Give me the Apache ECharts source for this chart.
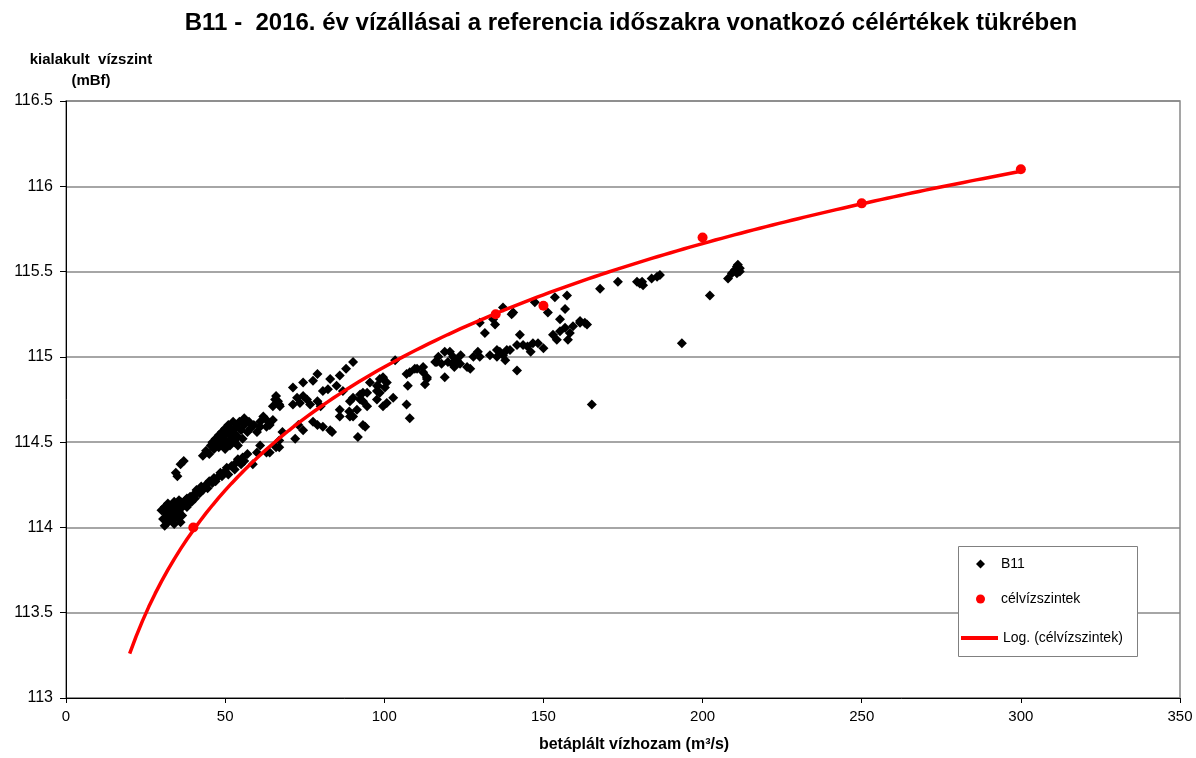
<!DOCTYPE html>
<html>

<head>
    <meta charset="UTF-8">
    <title>B11 - 2016</title>
    <script src="https://cdn.jsdelivr.net/npm/echarts@6.0.0/dist/echarts.min.js"></script>
    <style>
        html, body { margin: 0; padding: 0; background: #fff; }
        #chart { width: 1196px; height: 758px; }
    </style>
</head>

<body>
    <div id="chart"></div>
    <script>
        // célvízszintek (referencia célértékek)
        const targetFlow = [40, 135, 150, 200, 250, 300];
        const targetLevel = [114.0, 115.25, 115.3, 115.7, 115.9, 116.1];

        // B11 napi vízállások 2016 [vízhozam, vízszint]
        const b11 = [
            // alsó csoport
            [30, 114.10], [30.5, 114.05], [31, 114.12], [31.5, 114.08], [32, 114.03], [32, 114.14], [32.5, 114.10],
            [33, 114.06], [33, 114.12], [33.5, 114.04], [34, 114.09], [34, 114.15], [34.5, 114.11], [35, 114.06],
            [35, 114.13], [35.5, 114.09], [36, 114.15], [36, 114.11], [36.5, 114.07], [37, 114.13], [37.5, 114.16],
            [38, 114.12], [38, 114.17], [38.5, 114.14], [39, 114.18], [39.5, 114.15], [40, 114.19], [40.5, 114.17],
            [41, 114.20], [34, 114.02], [36, 114.03], [31, 114.01], [33, 114.09], [35.5, 114.16],
            [34.5, 114.32], [36, 114.37], [37, 114.39], [35, 114.30],
            // alsó sáv
            [41, 114.22], [42, 114.20], [42.5, 114.24], [43, 114.22], [44, 114.25], [44.5, 114.23], [45, 114.27],
            [46, 114.26], [46.5, 114.29], [47, 114.27], [48, 114.30], [48.5, 114.32], [49, 114.30], [50, 114.33],
            [50.5, 114.35], [51, 114.31], [52, 114.36], [53, 114.34], [53.5, 114.38], [54, 114.40], [55, 114.37],
            [55.5, 114.41], [56, 114.39], [57, 114.43], [58.7, 114.37], [60, 114.44], [61, 114.48], [63, 114.44],
            [64, 114.44], [66, 114.47], [67, 114.51], [67, 114.47], [68, 114.56], [72, 114.52], [74.5, 114.57],
            // felső sáv
            [43, 114.42], [44, 114.45], [45, 114.43], [45.5, 114.48], [46, 114.50], [46.5, 114.46], [47, 114.52],
            [47.5, 114.49], [48, 114.54], [48, 114.47], [48.5, 114.51], [49, 114.56], [49, 114.49], [49.5, 114.53],
            [50, 114.58], [50, 114.46], [50.5, 114.50], [51, 114.55], [51, 114.60], [51.5, 114.48], [52, 114.52],
            [52, 114.57], [52.5, 114.62], [53, 114.50], [53, 114.55], [53.5, 114.59], [54, 114.53], [54, 114.48],
            [54.5, 114.62], [55, 114.57], [55.5, 114.52], [56, 114.60], [56, 114.64], [57, 114.56], [57.5, 114.62],
            [58, 114.58], [59, 114.60], [60, 114.56], [61, 114.62], [61, 114.59], [62, 114.65], [63, 114.59],
            [63, 114.63], [64, 114.60],
            // 65-100
            [65, 114.71], [65, 114.63], [65.7, 114.75], [66, 114.77], [66.6, 114.74], [67, 114.72], [67.2, 114.71],
            [71.3, 114.82], [71.3, 114.72], [72.6, 114.76], [73, 114.60], [73.5, 114.73], [74.5, 114.85],
            [74.5, 114.77], [75.7, 114.75], [76.7, 114.72], [77.6, 114.86], [77.6, 114.62], [79, 114.90],
            [79, 114.74], [79, 114.60], [80, 114.71], [80.7, 114.80], [80.7, 114.59], [82.3, 114.81], [83, 114.87],
            [83, 114.57], [83.6, 114.56], [85, 114.83], [86, 114.89], [86, 114.69], [86, 114.65], [87, 114.80],
            [88, 114.93], [89, 114.68], [89.2, 114.74], [89.2, 114.65], [90.2, 114.97], [90.2, 114.76],
            [90.2, 114.65], [91.4, 114.69], [91.7, 114.53], [92.4, 114.75], [92.4, 114.78], [93.3, 114.79],
            [93.3, 114.60], [93.3, 114.74], [94, 114.59], [94.6, 114.71], [94.6, 114.79], [95.5, 114.85],
            [97.7, 114.83], [97.7, 114.75], [97.7, 114.80], [98, 114.83], [98.6, 114.79], [98.6, 114.87],
            [99.6, 114.87], [99.6, 114.88], [99.6, 114.71], [100.2, 114.82], [100.8, 114.73], [100.8, 114.85],
            // 100-165
            [102.8, 114.76], [103.4, 114.98], [107, 114.72], [107, 114.90], [107.4, 114.83], [108, 114.64],
            [108, 114.91], [109.6, 114.93], [110.3, 114.93], [112.2, 114.91], [112.2, 114.94], [112.8, 114.84],
            [113.4, 114.87], [113.4, 114.88], [116, 114.97], [116.5, 114.97], [117, 115.00], [118, 114.96],
            [119, 115.03], [119, 114.88], [120, 114.97], [120.6, 115.03], [121.3, 114.96], [121.6, 115.00],
            [122, 114.94], [122.8, 114.98], [123.8, 114.96], [124, 115.01], [126, 114.94], [127, 114.93],
            [128, 115.00], [129.4, 115.03], [130, 115.00], [130, 115.20], [131.6, 115.14], [133.2, 115.01],
            [134.2, 115.22], [134.8, 115.19], [135.4, 115.00], [135.4, 115.04], [136.3, 115.03], [137.3, 115.29],
            [137.3, 115.01], [138, 114.98], [138.5, 115.04], [139.5, 115.04], [140, 115.25], [140.5, 115.26],
            [141.7, 115.07], [141.7, 114.92], [142.6, 115.13], [143.6, 115.07], [145, 115.06], [146, 115.03],
            [146.7, 115.08], [147.3, 115.32], [148.3, 115.08], [150, 115.05], [151.4, 115.26], [153, 115.13],
            [153.6, 115.35], [154.2, 115.10], [155.2, 115.15], [155.2, 115.22], [156.8, 115.17], [156.8, 115.28],
            [157.4, 115.36], [157.7, 115.10], [158.3, 115.14], [159.3, 115.18], [161.5, 115.20], [161.5, 115.21],
            [163, 115.20], [163.7, 115.19], [165.2, 114.72],
            // 165-215
            [167.8, 115.40], [173.4, 115.44], [179.4, 115.44], [180.3, 115.43], [181, 115.44], [181.3, 115.42],
            [184, 115.46], [185.7, 115.47], [186.6, 115.48], [193.5, 115.08], [202.3, 115.36], [208, 115.46],
            [209.2, 115.49], [210.2, 115.51], [210.8, 115.53], [211.1, 115.54], [211.7, 115.52], [211.7, 115.50],
            [210.8, 115.49]
        ];

        const xTicks = { min: 0, max: 350, interval: 50 };
        const yTicks = { min: 113, max: 116.5, interval: 0.5 };

        // logaritmikus trendvonal (legkisebb négyzetek a célvízszintekre)
        const lx = targetFlow.map(v => Math.log(v));
        const mx = lx.reduce((s, v) => s + v, 0) / lx.length;
        const my = targetLevel.reduce((s, v) => s + v, 0) / targetLevel.length;
        let sxy = 0, sxx = 0;
        lx.forEach((v, i) => { sxy += (v - mx) * (targetLevel[i] - my); sxx += (v - mx) * (v - mx); });
        const slope = sxy / sxx;
        const icpt = my - slope * mx;
        const trend = [];
        for (let q = 20; q <= 300; q += 2) trend.push([q, icpt + slope * Math.log(q)]);

        const font = 'Liberation Sans, Arial, sans-serif';
        const legendText = { fontFamily: font, fontSize: 14, color: '#000' };
        const chart = echarts.init(document.getElementById('chart'));
        chart.setOption({
            animation: false,
            title: {
                text: 'B11 -  2016. év vízállásai a referencia időszakra vonatkozó célértékek tükrében',
                left: 626, top: 6, textAlign: 'center',
                textStyle: { fontFamily: font, fontSize: 24, fontWeight: 'bold', color: '#000' }
            },
            graphic: [{
                type: 'text', z: 10,
                style: {
                    text: 'kialakult  vízszint\n(mBf)', x: 91, y: 49, textAlign: 'center',
                    font: 'bold 15px ' + font, fill: '#000', lineHeight: 21
                }
            }, {
                type: 'rect', z: 10,
                shape: { x: 958.5, y: 546.5, width: 179, height: 110 },
                style: { fill: '#fff', stroke: '#808080', lineWidth: 1 }
            }],
            legend: [{
                orient: 'vertical', left: 976, top: 557, z: 20,
                padding: 0, itemGap: 21, itemWidth: 9, itemHeight: 9,
                textStyle: Object.assign({ padding: [0, 0, 0, 11] }, legendText),
                data: ['B11', 'célvízszintek']
            }, {
                orient: 'vertical', left: 961, top: 631, z: 20,
                padding: 0, itemWidth: 37, itemHeight: 4,
                textStyle: legendText,
                data: [{ name: 'Log. (célvízszintek)', icon: 'rect' }]
            }],
            grid: {
                left: 66, right: 16, top: 101, bottom: 59,
                show: true, borderColor: '#888', borderWidth: 1.5
            },
            xAxis: {
                type: 'value', min: xTicks.min, max: xTicks.max, interval: xTicks.interval,
                name: 'betáplált vízhozam (m³/s)', nameLocation: 'middle', nameGap: 39,
                nameTextStyle: { fontFamily: font, fontSize: 16, fontWeight: 'bold', color: '#000', padding: [0, 0, 0, 22] },
                axisLine: { lineStyle: { color: '#000', width: 1 } },
                axisTick: { show: true, inside: false, length: 5, lineStyle: { color: '#000' } },
                axisLabel: { fontFamily: font, fontSize: 15, color: '#000', margin: 11 },
                splitLine: { show: false }
            },
            yAxis: {
                type: 'value', min: yTicks.min, max: yTicks.max, interval: yTicks.interval,
                axisLine: { show: true, lineStyle: { color: '#000', width: 1 } },
                axisTick: { show: true, inside: false, length: 6, lineStyle: { color: '#000' } },
                axisLabel: { fontFamily: font, fontSize: 16, color: '#000', margin: 13 },
                splitLine: { show: true, lineStyle: { color: '#888', width: 1.5 } }
            },
            series: [{
                name: 'B11', type: 'scatter', data: b11,
                symbol: 'diamond', symbolSize: 10,
                itemStyle: { color: '#000', opacity: 1 }, z: 3
            }, {
                name: 'célvízszintek', type: 'scatter',
                data: targetFlow.map((v, i) => [v, targetLevel[i]]),
                symbol: 'circle', symbolSize: 10,
                itemStyle: { color: '#ff0000', opacity: 1 }, z: 4
            }, {
                name: 'Log. (célvízszintek)', type: 'line', data: trend,
                symbol: 'none', smooth: false,
                lineStyle: { color: '#ff0000', width: 3.5 },
                itemStyle: { color: '#ff0000' }, z: 5
            }]
        });
    </script>
</body>

</html>
